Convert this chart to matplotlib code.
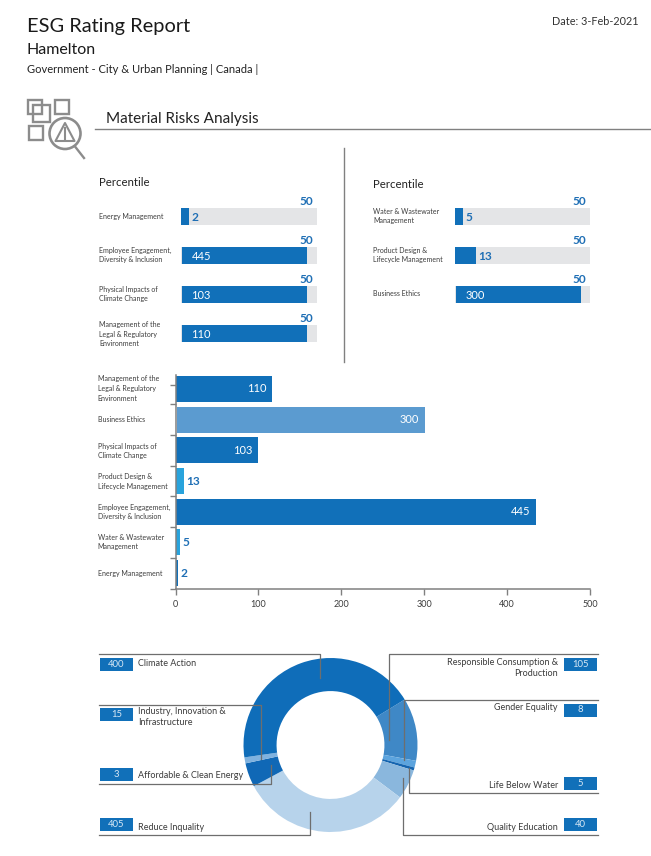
import matplotlib
matplotlib.use("Agg")
import matplotlib.pyplot as plt
from matplotlib.patches import Rectangle, Circle, Polygon

plt.rcParams['font.family'] = ['Lato', 'DejaVu Sans']

W, H = 651, 856

# percentile panels
left_names = ["Energy Management", "Employee Engagement,\nDiversity & Inclusion",
              "Physical Impacts of\nClimate Change",
              "Management of the\nLegal & Regulatory\nEnvironment"]
left_values = [2, 445, 103, 110]
left_fill = [5.9, 92.6, 92.6, 92.6]
right_names = ["Water & Wastewater\nManagement", "Product Design &\nLifecycle Management", "Business Ethics"]
right_values = [5, 13, 300]
right_fill = [5.9, 15.5, 93.3]
percentile_mark = 50

# main bar chart
bar_names = ["Management of the\nLegal & Regulatory\nEnvironment", "Business Ethics",
             "Physical Impacts of\nClimate Change", "Product Design &\nLifecycle Management",
             "Employee Engagement,\nDiversity & Inclusion", "Water & Wastewater\nManagement",
             "Energy Management"]
bar_values = [110, 300, 103, 13, 445, 5, 2]
bar_lengths = [117, 301, 100, 10, 435, 5.5, 3]
bar_colors = ["#1170b9", "#5b9bd0", "#1170b9", "#29a3dc", "#1170b9", "#29a3dc", "#1170b9"]
x_ticks = [0, 100, 200, 300, 400, 500]

# donut, clockwise. wedge sizes are degrees, they don't follow the printed values
wedge_names = ["Responsible Consumption", "Gender Equality", "Life Below Water", "Quality Education",
               "Reduce Inquality", "Affordable & Clean Energy", "Industry", "Climate Action"]
wedge_sizes = [42, 4.5, 2, 20, 114.8, 16, 4, 156.7]
wedge_colors = ["#3f88c6", "#5ca4de", "#1565b0", "#8ab7dd", "#b7d3eb", "#1068b6", "#7fb2df", "#0f6db9"]

DARK = "#1170b9"
TRACK = "#e4e5e7"
LINE = "#808080"
TXT = "#3c3c3c"


def px_axes(x0, y0, x1, y1):
    # axes from a pixel box, y counted from the top
    return fig.add_axes([x0 / W, 1 - y1 / H, (x1 - x0) / W, (y1 - y0) / H])


def percentile_panel(x0, x1, names, values, fill):
    ax = px_axes(x0, 197, x1, 353)
    ax.set_xlim(0, 100)
    ax.set_ylim(3.5, -0.5)
    ax.axis("off")
    for i, (val, f) in enumerate(zip(values, fill)):
        ax.barh(i, 100, height=0.46, color=TRACK)
        left = 0 if f < 50 else 0.7
        ax.barh(i, f - left, left=left, height=0.46, color=DARK)
        if val >= 100:
            ax.text(left + 7, i + 0.02, str(val), color="white", fontsize=8, va="center")
        else:
            ax.text(f + 1.8, i + 0.02, str(val), color="#1f6fb5", fontsize=8.6, va="center", fontweight="bold")
        ax.text(96.8, i - 0.39, str(percentile_mark), color="#1f6fb5", fontsize=8.6,
                ha="right", va="center", fontweight="bold")
    return ax


fig = plt.figure(figsize=(W / 100, H / 100), dpi=100)

percentile_panel(181, 317, left_names, left_values, left_fill)
percentile_panel(455, 590, right_names, right_values, right_fill)

# main bars
ax = px_axes(175.5, 375, 590, 589)
ax.set_xlim(0, 500)
ax.set_ylim(6.52, -0.456)
for i, (val, length, col) in enumerate(zip(bar_values, bar_lengths, bar_colors)):
    left = 2 if val == 300 else 0
    ax.barh(i, length - left, left=left, height=0.85, color=col)
    if val >= 100:
        ax.annotate(str(val), (length, i), xytext=(-4.5, 0), textcoords="offset points",
                    color="white", fontsize=8, ha="right", va="center")
    else:
        ax.annotate(str(val), (length, i), xytext=(1.5, 0), textcoords="offset points",
                    color="#1f6fb5", fontsize=8.6, ha="left", va="center", fontweight="bold")
for s in ["top", "right"]:
    ax.spines[s].set_visible(False)
for s in ["left", "bottom"]:
    ax.spines[s].set_color(LINE)
    ax.spines[s].set_linewidth(1.1)
ax.set_xticks(x_ticks)
ax.set_yticks([-0.13, 0.5, 1.5, 2.5, 3.5, 4.5, 5.5, 6.52])
ax.set_yticklabels([])
ax.tick_params(axis="both", length=4.3, width=1, color=LINE)
ax.tick_params(axis="x", labelsize=6.5, labelcolor=TXT, pad=3.5)

# donut
ax = px_axes(243.5, 658, 417.5, 832)
ax.pie(wedge_sizes, colors=wedge_colors, startangle=31.5, counterclock=False, radius=1,
       wedgeprops=dict(width=0.38, linewidth=0))
ax.set_xlim(-1, 1)
ax.set_ylim(-1, 1)

# everything else is page furniture on a pixel overlay
ov = fig.add_axes([0, 0, 1, 1], zorder=5)
ov.set_xlim(0, W)
ov.set_ylim(H, 0)
ov.axis("off")
ov.patch.set_alpha(0)

ov.text(27, 26, "ESG Rating Report", fontsize=14.4, color="#1a1a1a", va="center")
ov.text(27, 49.5, "Hamelton", fontsize=11.5, color="#1a1a1a", va="center")
ov.text(27, 69, "Government - City & Urban Planning | Canada |", fontsize=8, color="#222222", va="center")
ov.text(638, 21, "Date: 3-Feb-2021", fontsize=7.8, color="#333333", ha="right", va="center")
ov.text(106, 119, "Material Risks Analysis", fontsize=11, color="#222222", va="center")
ov.plot([95, 651], [129, 129], color=LINE, lw=1)
ov.plot([344, 344], [148, 362], color=LINE, lw=1)
ov.text(99, 182, "Percentile", fontsize=8.2, color="#222222", va="center")
ov.text(373, 184, "Percentile", fontsize=8.2, color="#222222", va="center")

# icon
ICON = "#8c8c8c"
for x, y, w, h in [(28, 100, 14, 14), (33, 105, 17, 17), (55, 100, 14, 14), (29, 126, 14, 14)]:
    ov.add_patch(Rectangle((x, y), w, h, fill=False, ec=ICON, lw=1.7))
ov.add_patch(Circle((65, 133.5), 15.5, fill=False, ec=ICON, lw=1.9))
ov.add_patch(Polygon([(65, 123), (55.5, 141), (74.5, 141)], fill=False, ec=ICON, lw=1.5, joinstyle="round"))
ov.plot([65, 65], [128, 135], color=ICON, lw=1.5)
ov.plot([65, 65], [137, 139], color=ICON, lw=1.5)
ov.plot([75, 84], [146.5, 158], color=ICON, lw=1.7)

# panel and bar names
for name, y in zip(left_names, [216, 255, 294, 334]):
    ov.text(99, y, name, fontsize=5, color=TXT, va="center", linespacing=1.45)
for name, y in zip(right_names, [216, 255, 293.5]):
    ov.text(373, y, name, fontsize=5, color=TXT, va="center", linespacing=1.45)
for name, y in zip(bar_names, [388.5, 419.5, 451, 481.5, 512, 542, 573.5]):
    ov.text(97.5, y, name, fontsize=5, color=TXT, va="center", linespacing=1.45)

# donut callouts
left_calls = [("400", "Climate Action", 658, 663, 654, 320, 678),
              ("15", "Industry, Innovation &\nInfrastructure", 708, 717, 704.5, 260.5, 759),
              ("3", "Affordable & Clean Energy", 768, 776, 784, 271, 765),
              ("405", "Reduce Inquality", 818, 827, 834.5, 310, 812)]
right_calls = [("105", "Responsible Consumption &\nProduction", 658, 668, 654, 389, 740),
               ("8", "Gender Equality", 703.5, 707.5, 699.5, 404, 760),
               ("5", "Life Below Water", 777, 786, 793, 409, 768),
               ("40", "Quality Education", 818, 827, 834.5, 402.5, 778)]
for val, name, box_y, txt_y, line_y, line_x, end_y in left_calls:
    ov.add_patch(Rectangle((100, box_y), 33, 13, color=DARK, lw=0))
    ov.text(116.5, box_y + 6.5, val, color="#d8e8f5", fontsize=6.8, ha="center", va="center")
    ov.text(138, txt_y, name, color=TXT, fontsize=6.5, va="center", linespacing=1.4)
    ov.plot([99, line_x, line_x], [line_y, line_y, end_y], color="#6e6e6e", lw=0.9)
for val, name, box_y, txt_y, line_y, line_x, end_y in right_calls:
    ov.add_patch(Rectangle((564, box_y), 33, 13, color=DARK, lw=0))
    ov.text(580.5, box_y + 6.5, val, color="#d8e8f5", fontsize=6.8, ha="center", va="center")
    ov.text(558, txt_y, name, color=TXT, fontsize=6.5, ha="right", va="center", linespacing=1.4)
    ov.plot([598, line_x, line_x], [line_y, line_y, end_y], color="#6e6e6e", lw=0.9)

fig.savefig("out.png", dpi=100)
